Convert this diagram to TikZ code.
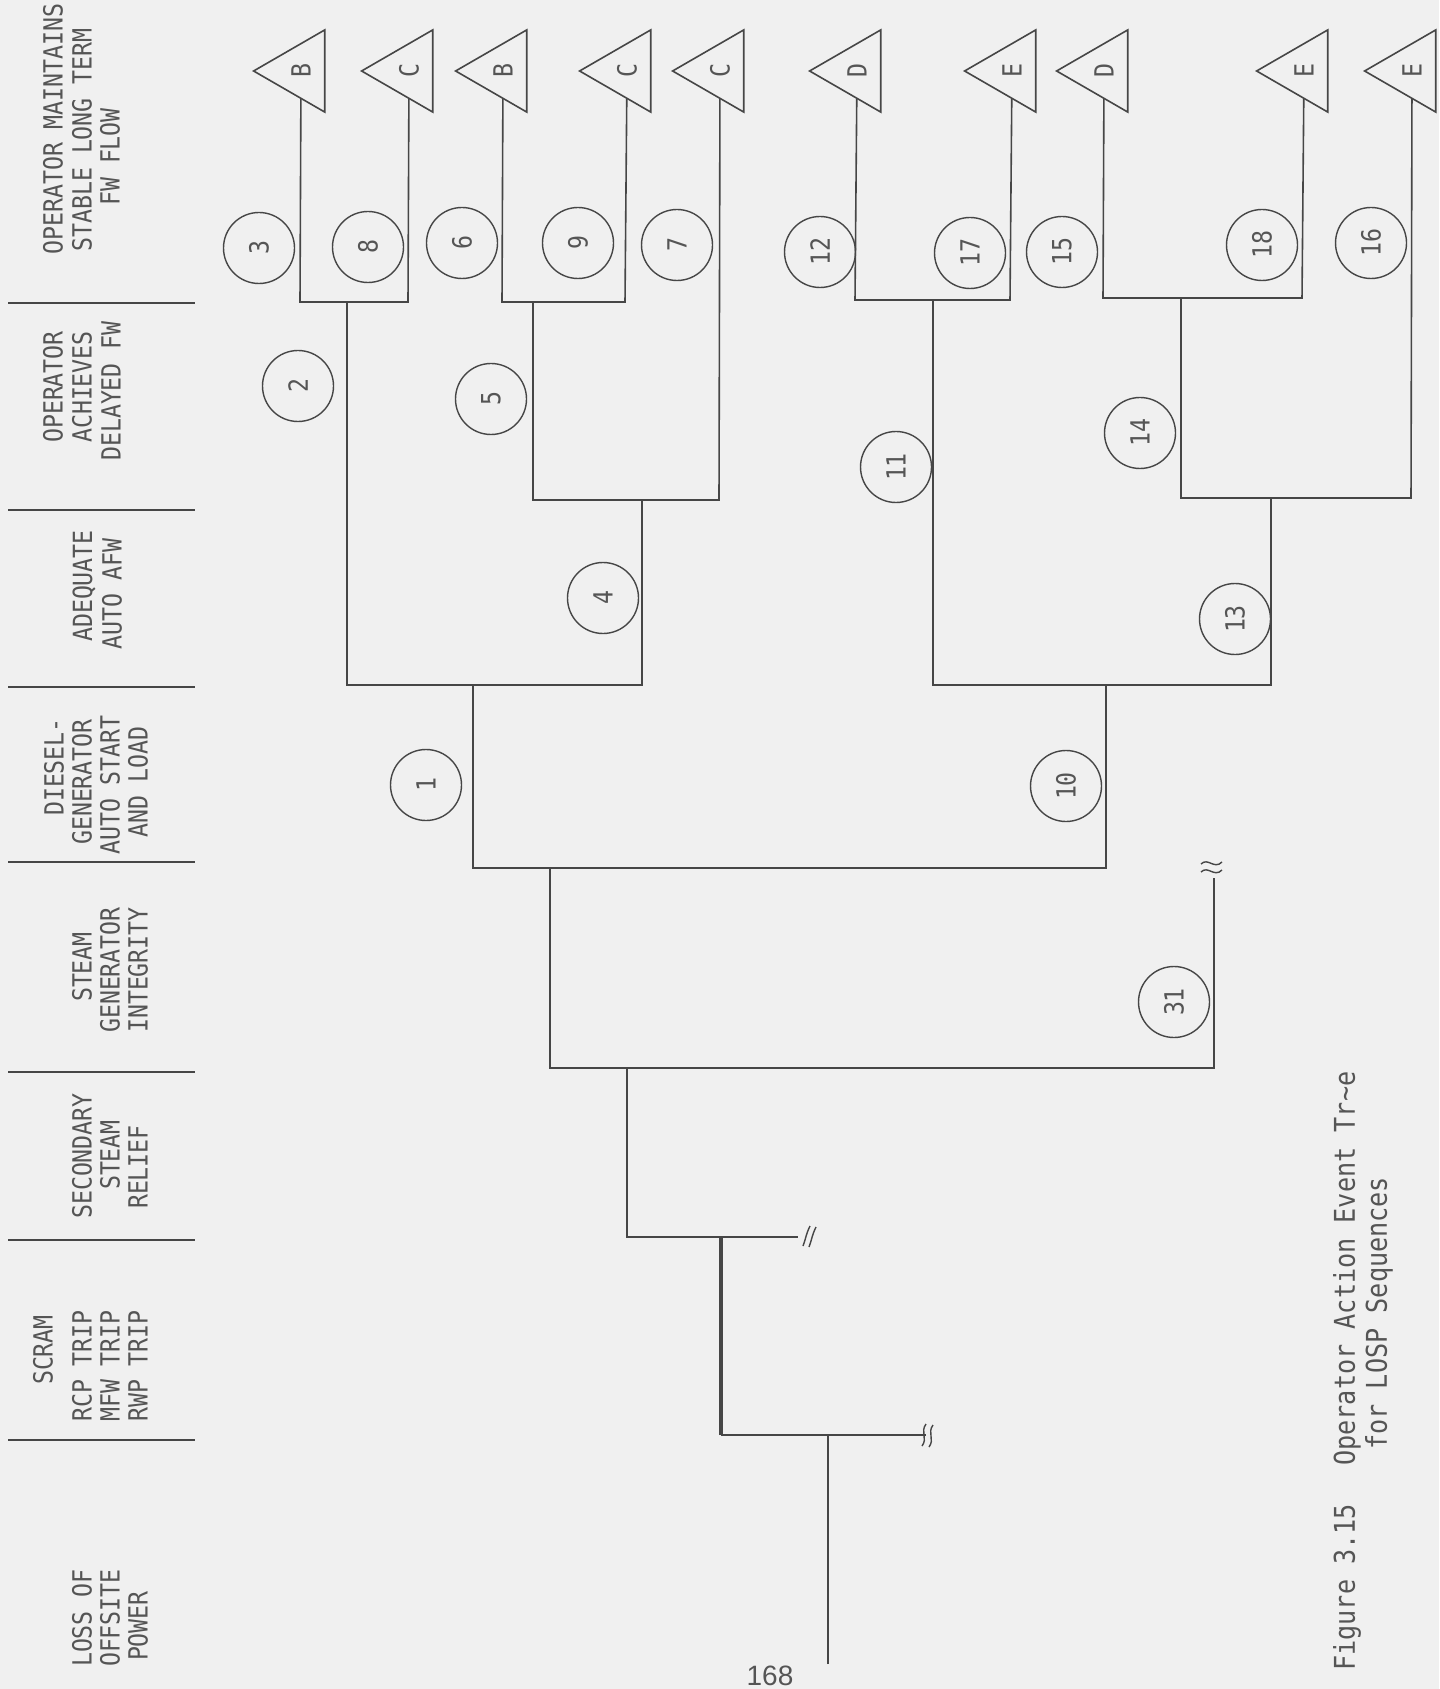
\documentclass[tikz,border=0pt]{standalone}
\usepackage{fontspec}
\usetikzlibrary{shapes.geometric}
\newfontfamily\twfont[FakeStretch=0.88]{DejaVu Sans Mono}
\newfontfamily\pgfont{Liberation Sans}
\definecolor{paper}{RGB}{240,240,240}
\definecolor{ink}{RGB}{70,70,70}
\definecolor{txt}{RGB}{85,85,85}
\begin{document}
\begin{tikzpicture}[x=0.5pt,y=-0.5pt,
  hdr/.style={rotate=90,inner sep=0pt,text=txt,font=\twfont\fontsize{13.2}{15}\selectfont},
  captxt/.style={rotate=90,inner sep=0pt,anchor=west,text=txt,font=\twfont\fontsize{14.3}{17}\selectfont},
  seq/.style={circle,draw=ink,line width=0.7pt,minimum size=35.5pt,inner sep=0pt,rotate=90,text=txt,font=\twfont\fontsize{13.2}{15}\selectfont},
  endst/.style={regular polygon,regular polygon sides=3,draw=ink,line width=0.8pt,minimum size=47.4pt,inner sep=0pt,rotate=90,text=txt,font=\twfont\fontsize{13.2}{15}\selectfont},
  br/.style={draw=ink,line width=0.8pt,line join=miter},
  divl/.style={draw=ink,line width=0.7pt},
  brk/.style={draw=ink,line width=0.7pt}]
\fill[paper] (0,0) rectangle (1439,1689);
\useasboundingbox (0,0) rectangle (1439,1689);

% ---------- header dividers ----------
\foreach \yy in {303,510,687,862,1072,1240,1440}
  \draw[divl] (8,\yy) -- (195,\yy);

% ---------- header texts ----------
\node[hdr] (h11) at (53,129) {OPERATOR MAINTAINS};
\node[hdr] (h12) at (82,140) {STABLE LONG TERM};
\node[hdr] (h13) at (110,157) {FW FLOW};
\node[hdr] (h21) at (53,387) {OPERATOR};
\node[hdr] (h22) at (82,387) {ACHIEVES};
\node[hdr] (h23) at (111,391) {DELAYED FW};
\node[hdr] (h31) at (84,586) {ADEQUATE};
\node[hdr] (h32) at (112,594) {AUTO AFW};
\node[hdr] (h41) at (54,767) {DIESEL-};
\node[hdr] (h42) at (82,782) {GENERATOR};
\node[hdr] (h43) at (110,785) {AUTO START};
\node[hdr] (h44) at (138,782) {AND LOAD};
\node[hdr] (h51) at (82,967) {STEAM};
\node[hdr] (h52) at (110,970) {GENERATOR};
\node[hdr] (h53) at (138,970) {INTEGRITY};
\node[hdr] (h61) at (82,1156) {SECONDARY};
\node[hdr] (h62) at (110,1155) {STEAM};
\node[hdr] (h63) at (138,1167) {RELIEF};
\node[hdr] (h71) at (43,1350) {SCRAM};
\node[hdr] (h72) at (82,1366) {RCP TRIP};
\node[hdr] (h73) at (110,1366) {MFW TRIP};
\node[hdr] (h74) at (138,1366) {RWP TRIP};
\node[hdr] (h81) at (82,1618) {LOSS OF};
\node[hdr] (h82) at (110,1618) {OFFSITE};
\node[hdr] (h83) at (138,1626) {POWER};

% ---------- end states (triangles) ----------
\node[endst] (tB1) at (301,71) {B};
\node[endst] (tC1) at (409,71) {C};
\node[endst] (tB2) at (503,71) {B};
\node[endst] (tC2) at (627,71) {C};
\node[endst] (tC3) at (720,71) {C};
\node[endst] (tD1) at (857,71) {D};
\node[endst] (tE1) at (1012,71) {E};
\node[endst] (tD2) at (1104,71) {D};
\node[endst] (tE2) at (1304,71) {E};
\node[endst] (tE3) at (1412,71) {E};

% ---------- sequence numbers ----------
\node[seq] (s3)  at (259,248) {3};
\node[seq] (s8)  at (368,247) {8};
\node[seq] (s6)  at (462,243) {6};
\node[seq] (s9)  at (578,243) {9};
\node[seq] (s7)  at (677,245) {7};
\node[seq] (s12) at (820,252) {12};
\node[seq] (s17) at (970,253) {17};
\node[seq] (s15) at (1062,252) {15};
\node[seq] (s18) at (1262,245) {18};
\node[seq] (s16) at (1371,243) {16};
\node[seq] (s2)  at (298,386) {2};
\node[seq] (s5)  at (491,399) {5};
\node[seq] (s11) at (896,467) {11};
\node[seq] (s14) at (1140,433) {14};
\node[seq] (s4)  at (603,598) {4};
\node[seq] (s13) at (1235,619) {13};
\node[seq] (s1)  at (426,785) {1};
\node[seq] (s10) at (1066,786) {10};
\node[seq] (s31) at (1174,1002) {31};

% ---------- branch points ----------
\coordinate (r0) at (828,1664);
\coordinate (r1) at (828,1435);
\coordinate (a0) at (721,1435);
\coordinate (a1) at (926,1435);
\coordinate (b0) at (721,1237);
\coordinate (b1) at (627,1237);
\coordinate (b2) at (798,1237);
\coordinate (c0) at (627,1068);
\coordinate (c1) at (550,1068);
\coordinate (c2) at (1214,1068);
\coordinate (c3) at (1214,878);
\coordinate (d0) at (550,868);
\coordinate (d1) at (473,868);
\coordinate (d2) at (1106,868);
\coordinate (e0) at (473,685);
\coordinate (e1) at (347,685);
\coordinate (e2) at (642,685);
\coordinate (f0) at (1106,685);
\coordinate (f1) at (933,685);
\coordinate (f2) at (1271,685);
\coordinate (g0) at (347,302);
\coordinate (g1) at (300,302);
\coordinate (g2) at (408,302);
\coordinate (h0) at (642,500);
\coordinate (h1) at (533,500);
\coordinate (h2) at (719,500);
\coordinate (i0) at (533,302);
\coordinate (i1) at (502,302);
\coordinate (i2) at (625,302);
\coordinate (j0) at (933,300);
\coordinate (j1) at (855,300);
\coordinate (j2) at (1010,300);
\coordinate (k0) at (1271,498);
\coordinate (k1) at (1181,498);
\coordinate (k2) at (1411,498);
\coordinate (l0) at (1181,298);
\coordinate (l1) at (1103,298);
\coordinate (l2) at (1302,298);

% ---------- tree ----------
\draw[br] (r0) -- (r1);
\draw[br,line width=1.2pt] (a0) -- (a1);
\draw[br,line width=1.8pt] (a0) -- (b0);
\draw[br,line width=1.1pt] (c0) -- (b1) -- (b2);
\draw[br,line width=1.0pt] (d0) -- (c1) -- (c2) -- (c3);
\draw[br,line width=0.9pt] (e0) -- (d1) -- (d2) -- (f0);
\draw[br] (g0) -- (e1) -- (e2) -- (h0);
\draw[br] (j0) -- (f1) -- (f2) -- (k0);
\draw[br] (i0) -- (h1) -- (h2) -- (tC3);
\draw[br] (l0) -- (k1) -- (k2) -- (tE3);
\draw[br] (tB1) -- (g1) -- (g2) -- (tC1);
\draw[br] (tB2) -- (i1) -- (i2) -- (tC2);
\draw[br] (tD1) -- (j1) -- (j2) -- (tE1);
\draw[br] (tD2) -- (l1) -- (l2) -- (tE2);

% ---------- break marks ----------
\draw[brk] (922,1446) .. controls (928,1438) and (920,1432) .. (926,1424);
\draw[brk] (929,1447) .. controls (935,1439) and (927,1433) .. (933,1425);
\draw[brk] (803,1246) .. controls (806,1238) and (806,1234) .. (810,1226);
\draw[brk] (809,1247) .. controls (812,1239) and (812,1235) .. (816,1227);
\draw[brk] (1201,864) .. controls (1208,857) and (1214,870) .. (1222,862);
\draw[brk] (1201,872) .. controls (1208,865) and (1214,878) .. (1222,870);

% ---------- caption and page number ----------
\node[captxt] (cap1) at (1347,1671) {Figure 3.15};
\node[captxt] (cap2) at (1347,1466) {Operator Action Event Tr\textasciitilde e};
\node[captxt] (cap3) at (1379,1450) {for LOSP Sequences};
\node[inner sep=0pt,text=txt,font=\pgfont\fontsize{14}{16}\selectfont] (pg) at (770,1676) {168};
\end{tikzpicture}
\end{document}
